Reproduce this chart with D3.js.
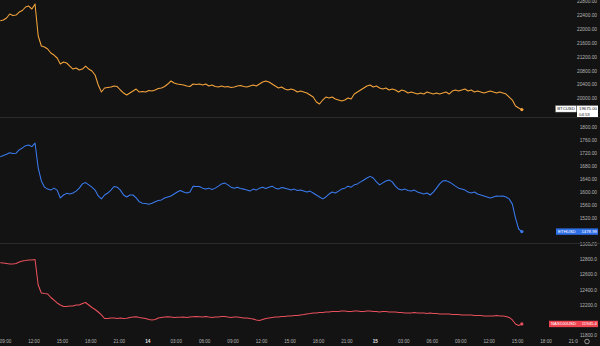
<!DOCTYPE html>
<html><head><meta charset="utf-8">
<script src="https://cdn.jsdelivr.net/npm/d3@7"></script>
<style>html,body{margin:0;padding:0;background:#131313;overflow:hidden}svg{display:block}</style>
</head><body><svg id="c" width="600" height="346"></svg>
<script>
// ---- data (20-minute samples starting 2022-09-13 08:30 UTC) ----
const startTime = "2022-09-13T08:30:00Z";
const stepMinutes = 20;
const btcValues = [22233,22253,22311,22426,22383,22397,22483,22527,22627,22656,22570,22714,21793,21505,21476,21419,21303,21246,21160,20987,
21044,21016,20929,20843,20872,20814,20843,20929,20843,20785,20670,20382,20181,20296,20311,20325,20354,20339,20239,20152,
20095,20152,20210,20267,20181,20195,20181,20224,20210,20239,20282,20296,20339,20411,20498,20440,20411,20397,20382,20354,
20339,20411,20397,20411,20382,20411,20354,20382,20339,20325,20354,20325,20339,20311,20325,20354,20368,20339,20325,20354,
20382,20354,20411,20469,20498,20469,20411,20354,20296,20325,20267,20239,20267,20239,20181,20210,20181,20152,20095,20037,
19893,19836,19951,20037,20008,20037,19980,19951,19922,19951,20008,19980,20123,20181,20239,20296,20354,20382,20325,20354,
20296,20267,20296,20239,20267,20239,20181,20239,20210,20152,20181,20152,20123,20152,20123,20181,20152,20123,20152,20123,
20152,20181,20123,20210,20239,20210,20239,20267,20210,20239,20181,20210,20181,20152,20181,20210,20181,20152,20181,20152,
20123,20037,19951,19778,19721,19675];
const ethValues = [1708,1712,1716,1720,1718,1719,1729,1735,1742,1744,1739,1750,1674,1634,1615,1609,1606,1612,1606,1582,
1591,1596,1594,1597,1603,1612,1625,1629,1622,1615,1606,1588,1579,1591,1597,1606,1617,1615,1606,1591,
1585,1591,1591,1582,1570,1566,1565,1563,1566,1570,1574,1576,1582,1585,1588,1594,1600,1605,1600,1597,
1600,1618,1617,1617,1612,1609,1612,1608,1612,1618,1625,1628,1622,1615,1612,1615,1611,1609,1606,1603,
1609,1606,1612,1615,1611,1615,1618,1612,1609,1614,1612,1609,1606,1609,1605,1606,1603,1600,1603,1597,
1591,1585,1579,1585,1594,1600,1597,1603,1609,1612,1618,1615,1622,1625,1631,1637,1643,1648,1643,1631,
1622,1628,1634,1637,1631,1618,1609,1606,1609,1605,1603,1606,1600,1597,1594,1597,1591,1600,1612,1625,
1634,1635,1631,1625,1618,1612,1609,1606,1600,1597,1600,1594,1591,1588,1585,1582,1585,1588,1587,1588,
1585,1579,1563,1520,1487,1478.99];
const nasValues = [12753,12749,12743,12736,12736,12743,12763,12776,12782,12789,12789,12796,12459,12354,12347,12341,12294,12261,12222,12195,
12176,12176,12182,12182,12195,12195,12215,12228,12195,12162,12136,12103,12064,12017,12017,12024,12024,12017,12024,12017,
12020,12031,12037,12041,12031,12024,12017,12004,11998,12004,12024,12031,12037,12041,12037,12031,12033,12033,12037,12031,
12037,12041,12044,12041,12037,12044,12037,12031,12037,12037,12044,12044,12037,12031,12037,12037,12031,12024,12024,12017,
12011,11998,11991,12004,12017,12024,12031,12037,12037,12044,12044,12050,12050,12057,12057,12064,12070,12077,12083,12090,
12090,12097,12097,12103,12103,12110,12110,12110,12116,12116,12110,12110,12116,12116,12110,12110,12116,12116,12110,12110,
12103,12110,12110,12103,12103,12103,12097,12097,12090,12090,12090,12097,12090,12090,12090,12083,12090,12083,12083,12077,
12077,12077,12077,12070,12070,12070,12064,12064,12064,12064,12057,12057,12057,12050,12050,12050,12050,12057,12050,12050,
12044,12031,11998,11945,11925,11945.4];
const btcTicks = [20000,20400,20800,21200,21600,22000,22400,22800];
const ethTicks = [1440,1480,1520,1560,1600,1640,1680,1720,1760,1800];
const nasTicks = [11800,12000,12200,12400,12600,12800,13000];
const symbols = ["BTCUSD","ETHUSD","NAS100USD"];
const lastPriceText = ["19675.00","1478.99","11945.4"];
const countdownText = "04:53";

// ---- layout ----
const W = 600, H = 346;
const svg = d3.select("#c");
svg.append("rect").attr("width",W).attr("height",H).attr("fill","#131313");
const t0 = new Date(startTime);
const times = btcValues.map((_,i)=>d3.utcMinute.offset(t0, i*stepMinutes));
const x = d3.scaleTime()
  .domain([new Date("2022-09-13T09:00:00Z"), new Date("2022-09-15T21:00:00Z")])
  .range([5, 574]);

const panes = [
  {vals:btcValues, ticks:btcTicks, top:0, bottom:117, domain:[19462,22829], color:"#f5a43c", fmt:d3.format(".2f"), box:"#ffffff", boxText:"#131313"},
  {vals:ethValues, ticks:ethTicks, top:118, bottom:243, domain:[1444.1,1826.6], color:"#3a7bef", fmt:d3.format(".2f"), box:"#2f6fe6", boxText:"#ffffff"},
  {vals:nasValues, ticks:nasTicks, top:244, bottom:338, domain:[11760,13000], color:"#e9505c", fmt:d3.format(".1f"), box:"#ee4452", boxText:"#ffffff"}
];
const defs = svg.append("defs");
const font = "Liberation Sans, Arial, sans-serif";

panes.forEach((p, k) => {
  const y = d3.scaleLinear().domain(p.domain).range([p.bottom, p.top]);
  const lastV = p.vals[p.vals.length-1], lastT = times[times.length-1];
  const ly = y(lastV);
  const cid = "clip"+k;
  defs.append("clipPath").attr("id",cid).append("rect")
    .attr("x",0).attr("y",p.top).attr("width",W).attr("height",p.bottom-p.top);
  const g = svg.append("g").attr("clip-path",`url(#${cid})`);
  if (k>0) svg.append("line").attr("x1",0).attr("x2",W).attr("y1",p.top-0.5).attr("y2",p.top-0.5)
      .attr("stroke","#2a2a2a").attr("stroke-width",1);
  // tick labels hidden behind the last-price box are not drawn
  const visTicks = p.ticks.filter(t => Math.abs(y(t) - ly) > 5.5);
  const ax = g.append("g").attr("transform","translate(597,0)")
    .call(d3.axisLeft(y).tickValues(visTicks).tickFormat(p.fmt).tickSize(0).tickPadding(0));
  ax.select(".domain").remove();
  ax.selectAll("text").attr("fill","#b4b4b4").attr("font-size",4.8).attr("font-family",font);
  const line = d3.line().x((d,i)=>x(times[i])).y(d=>y(d));
  g.append("path").datum(p.vals).attr("d",line).attr("fill","none")
    .attr("stroke",p.color).attr("stroke-width",1.05).attr("stroke-linejoin","round");
  g.append("circle").attr("cx",x(lastT)).attr("cy",ly).attr("r",1.6).attr("fill",p.color);
  const lg = svg.append("g").attr("font-family",font).attr("font-size",4.3);
  if (k===0) {
    lg.append("rect").attr("x",555.5).attr("y",ly-4).attr("width",21).attr("height",6.5)
      .attr("fill",p.box).attr("stroke","#666").attr("stroke-width",0.4);
    lg.append("text").attr("x",566).attr("y",ly+0.8).attr("text-anchor","middle").attr("fill",p.boxText).text(symbols[k]);
    lg.append("rect").attr("x",577).attr("y",ly-4).attr("width",21).attr("height",12)
      .attr("fill",p.box);
    lg.append("text").attr("x",579).attr("y",ly+0.8).attr("fill",p.boxText).text(lastPriceText[k]);
    lg.append("text").attr("x",579).attr("y",ly+6.3).attr("fill",p.boxText).text(countdownText);
  } else {
    const x0 = k===1 ? 556 : 549;
    lg.append("rect").attr("x",x0).attr("y",ly-3.2).attr("width",598-x0).attr("height",6.4).attr("fill",p.box);
    lg.append("text").attr("x",x0+2).attr("y",ly+1.5).attr("fill",p.boxText).text(symbols[k]);
    lg.append("text").attr("x",597).attr("y",ly+1.5).attr("text-anchor","end").attr("fill",p.boxText).text(lastPriceText[k]);
  }
});

// time axis
defs.append("clipPath").attr("id","tclip").append("rect").attr("x",0).attr("y",337).attr("width",578).attr("height",9);
const outer = svg.append("g").attr("clip-path","url(#tclip)");
const tg = outer.append("g").attr("transform","translate(0,338)");
const tfmt = d => (d.getUTCHours()===0 ? d3.utcFormat("%-d")(d) : d3.utcFormat("%H:%M")(d));
tg.call(d3.axisBottom(x).ticks(d3.utcHour.every(3)).tickFormat(tfmt).tickSize(0).tickPadding(1.5));
tg.select(".domain").remove();
tg.selectAll("text").attr("font-size",4.6).attr("font-family",font)
  .attr("font-weight", d => d.getUTCHours()===0 ? "bold" : "normal")
  .attr("fill", d => d.getUTCHours()===0 ? "#e8e8e8" : "#b4b4b4");
svg.append("circle").attr("cx",587).attr("cy",341.5).attr("r",2.3).attr("fill","none").attr("stroke","#c8c8c8").attr("stroke-width",0.7);
</script>
</body></html>
